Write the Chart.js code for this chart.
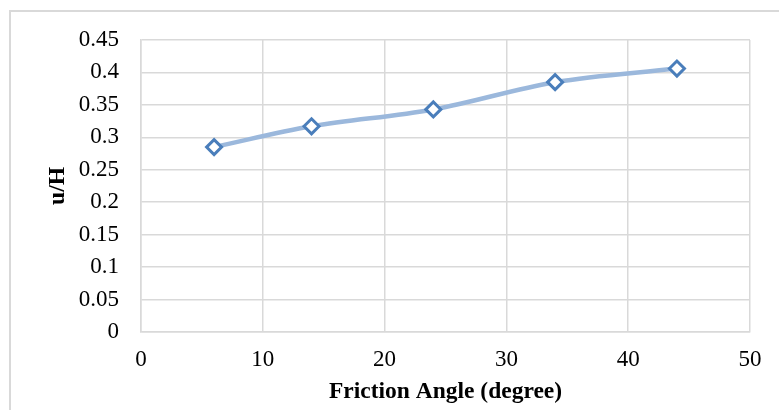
<!DOCTYPE html>
<html>
<head>
<meta charset="utf-8">
<script src="https://cdn.jsdelivr.net/npm/chart.js@4"></script>
<style>
    html, body { margin: 0; padding: 0; background: #fff; overflow: hidden; }
    #wrap { position: relative; width: 779px; height: 410px; overflow: hidden; }
    #frame { position: absolute; left: 9px; top: 10px; width: 820px; height: 430px; border: 2px solid #d9d9d9; }
    #chart { position: absolute; left: 0; top: 0; }
</style>
</head>
<body>
<div id="wrap">
    <div id="frame"></div>
    <canvas id="chart" width="779" height="410"></canvas>
</div>
<script>
// Data
const frictionAngles = [6, 14, 24, 34, 44];
const uOverH = [0.285, 0.317, 0.343, 0.385, 0.406];
const yTickLabels = ['0', '0.05', '0.1', '0.15', '0.2', '0.25', '0.3', '0.35', '0.4', '0.45'];
const xTickLabels = ['0', '10', '20', '30', '40', '50'];

document.addEventListener('DOMContentLoaded', function() {
    const ctx = document.getElementById('chart').getContext('2d');
    const points = frictionAngles.map((x, i) => ({ x: x, y: uOverH[i] }));
    const serif = '"Liberation Serif", "Times New Roman", serif';

    new Chart(ctx, {
        type: 'line',
        data: {
            datasets: [{
                data: points,
                borderColor: '#9bb8dc',
                borderWidth: 4.5,
                tension: 0.35,
                pointStyle: 'rectRot',
                pointRadius: 7.5,
                pointBorderWidth: 3,
                pointBorderColor: '#4a7ebb',
                pointBackgroundColor: '#ffffff',
                fill: false
            }]
        },
        options: {
            responsive: false,
            animation: false,
            layout: {
                padding: { left: 0, top: 40, right: 29, bottom: 0 }
            },
            plugins: {
                legend: { display: false },
                tooltip: { enabled: false }
            },
            scales: {
                x: {
                    type: 'linear',
                    min: 0,
                    max: 50,
                    afterFit: function(scale) { scale.height = 78; },
                    grid: { color: '#d9d9d9', lineWidth: 1.5, drawTicks: false },
                    border: { color: '#d9d9d9', width: 1.5 },
                    ticks: {
                        stepSize: 10,
                        padding: 14,
                        color: '#000',
                        font: { family: serif, size: 23 },
                        callback: function(value, index) { return xTickLabels[index]; }
                    },
                    title: {
                        display: true,
                        text: 'Friction Angle (degree)',
                        color: '#000',
                        padding: { top: 0, bottom: 4 },
                        font: { family: serif, size: 23.5, weight: 'bold' }
                    }
                },
                y: {
                    min: 0,
                    max: 0.45,
                    afterFit: function(scale) { scale.width = 141; },
                    grid: { color: '#d9d9d9', lineWidth: 1.5, drawTicks: false },
                    border: { color: '#d9d9d9', width: 1.5 },
                    ticks: {
                        stepSize: 0.05,
                        padding: 22,
                        color: '#000',
                        font: { family: serif, size: 23 },
                        callback: function(value, index) { return yTickLabels[index]; }
                    },
                    title: {
                        display: true,
                        text: 'u/H',
                        color: '#000',
                        padding: { top: 44, bottom: 0 },
                        font: { family: serif, size: 23.5, weight: 'bold' }
                    }
                }
            }
        }
    });
});
</script>
</body>
</html>
